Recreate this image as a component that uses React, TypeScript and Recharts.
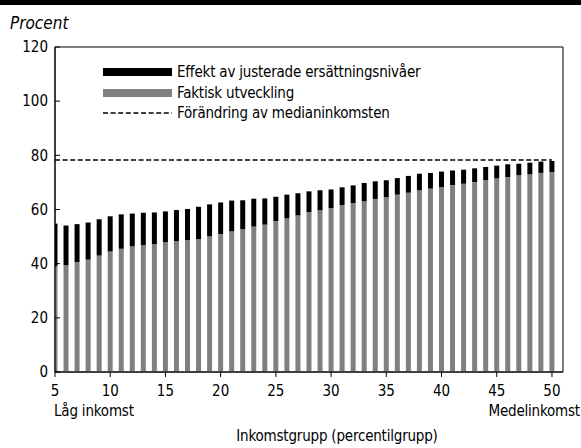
import { Bar, ComposedChart, Legend, Line, ReferenceArea, XAxis, YAxis } from "recharts"

const percentiles = [5, 6, 7, 8, 9, 10, 11, 12, 13, 14, 15, 16, 17, 18, 19, 20, 21, 22, 23, 24, 25, 26, 27, 28, 29, 30, 31, 32, 33, 34, 35, 36, 37, 38, 39, 40, 41, 42, 43, 44, 45, 46, 47, 48, 49, 50]

const faktisk = [39.0, 39.4, 40.6, 41.5, 43.0, 44.5, 45.5, 46.4, 46.9, 47.2, 47.9, 48.3, 48.6, 49.1, 50.1, 50.9, 51.9, 52.7, 53.7, 54.4, 55.7, 56.7, 57.8, 59.0, 59.7, 60.5, 61.6, 62.4, 63.1, 63.9, 64.6, 65.5, 66.2, 67.1, 67.7, 68.3, 69.0, 69.5, 70.1, 70.8, 71.5, 72.0, 72.6, 73.0, 73.5, 73.8]

const effekt = [15.8, 14.7, 14.0, 13.7, 13.4, 13.0, 12.7, 12.1, 11.9, 11.7, 11.4, 11.5, 11.6, 11.9, 11.8, 11.7, 11.4, 10.7, 10.3, 9.7, 9.0, 8.8, 8.2, 7.7, 7.4, 6.9, 6.6, 6.5, 6.7, 6.5, 6.2, 6.1, 6.2, 6.1, 5.8, 5.7, 5.4, 5.2, 5.1, 4.9, 4.7, 4.7, 4.3, 4.3, 4.2, 4.1]

const median = [78.3, 78.3, 78.3, 78.3, 78.3, 78.3, 78.3, 78.3, 78.3, 78.3, 78.3, 78.3, 78.3, 78.3, 78.3, 78.3, 78.3, 78.3, 78.3, 78.3, 78.3, 78.3, 78.3, 78.3, 78.3, 78.3, 78.3, 78.3, 78.3, 78.3, 78.3, 78.3, 78.3, 78.3, 78.3, 78.3, 78.3, 78.3, 78.3, 78.3, 78.3, 78.3, 78.3, 78.3, 78.3, 78.3]

const xTicks = [5, 10, 15, 20, 25, 30, 35, 40, 45, 50]
const yTicks = [0, 20, 40, 60, 80, 100, 120]

const data = percentiles.map((p, i) => ({ p, faktisk: faktisk[i], effekt: effekt[i], median: median[i] }))

const FONT = '"Liberation Sans Narrow", "DejaVu Sans Condensed", "Arial Narrow", sans-serif'
const FS = 15

const legendItems = [
  { name: "Effekt av justerade ersättningsnivåer", kind: "rect", color: "#000000" },
  { name: "Faktisk utveckling", kind: "rect", color: "#808080" },
  { name: "Förändring av medianinkomsten", kind: "dash", color: "#000000" },
]

const LegendBox = () => (
  <div style={{ fontFamily: FONT, fontSize: FS, letterSpacing: -0.2, color: "#000" }}>
    {legendItems.map((item) => (
      <div key={item.name} style={{ display: "flex", alignItems: "center", height: 20.5 }}>
        <svg width={74} height={10} style={{ display: "block" }}>
          {item.kind === "rect" ? (
            <rect x={0} y={1} width={69} height={8} fill={item.color} />
          ) : (
            <line x1={0} x2={69} y1={5} y2={5} stroke={item.color} strokeWidth={1.6} strokeDasharray="5 2.6" />
          )}
        </svg>
        <span style={{ lineHeight: "20px" }}>{item.name}</span>
      </div>
    ))}
  </div>
)

const XTick = (props: any) => {
  const { x, y, payload } = props
  return (
    <g fontFamily={FONT} fontSize={FS} fill="#000">
      <text x={x} y={y} dy={15} textAnchor="middle">{payload.value}</text>
      {payload.value === 5 && (
        <text x={x - 1} y={y} dy={35} textAnchor="start" letterSpacing={-0.2}>Låg inkomst</text>
      )}
      {payload.value === 50 && (
        <text x={x + 28} y={y} dy={35} textAnchor="end" letterSpacing={-0.2}>Medelinkomst</text>
      )}
    </g>
  )
}

export default function App() {
  return (
    <div style={{ position: "absolute", top: 0, left: 0, width: 581, height: 448, background: "#fff", overflow: "hidden" }}>
      <div style={{ position: "absolute", top: 0, left: 0, width: 581, height: 5, background: "#000" }} />
      <div style={{ position: "absolute", left: 10, top: 12, fontFamily: FONT, fontSize: 17, fontStyle: "italic", lineHeight: "22px" }}>
        Procent
      </div>
      <ComposedChart width={581} height={448} data={data} margin={{ top: 47, right: 18, bottom: 46, left: 0 }}>
        <XAxis
          dataKey="p"
          type="number"
          domain={[5, 51]}
          ticks={xTicks}
          interval={0}
          height={30}
          tickSize={5}
          tickMargin={4}
          axisLine={{ stroke: "#000" }}
          tickLine={{ stroke: "#000" }}
          tick={<XTick />}
          allowDataOverflow
          label={{ value: "Inkomstgrupp (percentilgrupp)", position: "bottom", offset: 28, dx: 28, fontFamily: FONT, fontSize: FS, letterSpacing: -0.2, fill: "#000" }}
        />
        <YAxis
          type="number"
          domain={[0, 120]}
          ticks={yTicks}
          interval={0}
          width={55}
          tickSize={-5}
          tickMargin={12}
          axisLine={{ stroke: "#000" }}
          tickLine={{ stroke: "#000" }}
          tick={{ fontFamily: FONT, fontSize: FS, fill: "#000" }}
        />
        <ReferenceArea x1={5} x2={51} y1={0} y2={120} fill="none" stroke="#000" strokeWidth={1} ifOverflow="visible" />
        <Legend
          layout="vertical"
          align="center"
          verticalAlign="middle"
          wrapperStyle={{ position: "absolute", left: 103, top: 62, width: 360 }}
          content={() => <LegendBox />}
        />
        <Bar dataKey="faktisk" stackId="a" fill="#808080" barSize={5} isAnimationActive={false} />
        <Bar dataKey="effekt" stackId="a" fill="#000000" barSize={5} isAnimationActive={false} />
        <Line
          type="linear"
          dataKey="median"
          stroke="#000"
          strokeWidth={1.6}
          strokeDasharray="5 2.6"
          dot={false}
          activeDot={false}
          isAnimationActive={false}
        />
      </ComposedChart>
    </div>
  )
}
